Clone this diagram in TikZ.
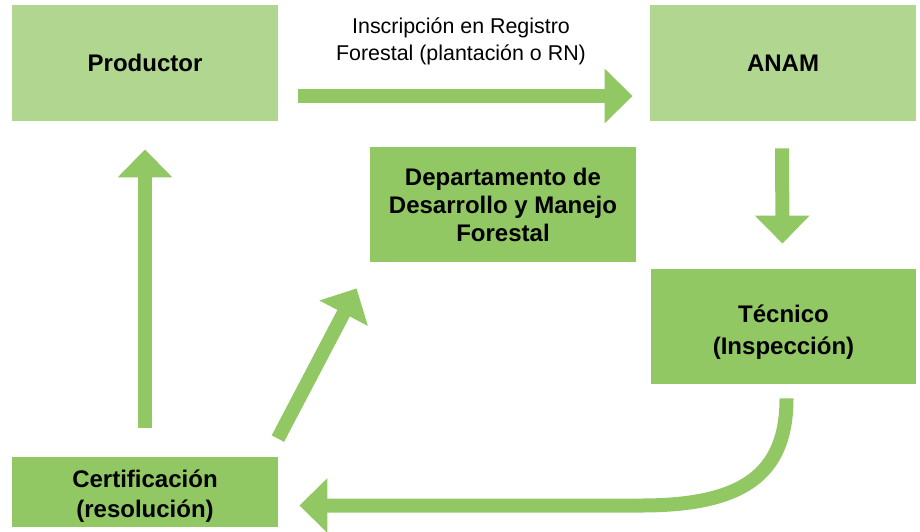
\documentclass[tikz,border=0pt]{standalone}
\usepackage{fontspec}
\setmainfont{Liberation Sans}
\usepackage{tikz}
\usetikzlibrary{arrows.meta,positioning,calc}
\usepackage{xcolor}
\definecolor{lightgreen}{RGB}{176,214,144}
\definecolor{midgreen}{RGB}{146,200,100}

\begin{document}
\begin{tikzpicture}[
    x=0.5pt, y=-0.5pt,
    box/.style={rectangle, fill=#1, minimum width=133pt, minimum height=58pt, align=center, inner sep=2pt, font=\fontsize{12}{14}\selectfont\bfseries},
    bigarrow/.style={-{Triangle[width=26.5pt,length=14pt]}, line width=7pt, midgreen}
]
\useasboundingbox (0,0) rectangle (920,531);

% Boxes
\node[box=lightgreen] (prod) at (145,63) {Productor};
\node[box=lightgreen] (anam) at (783,63) {ANAM};
\node[box=midgreen, minimum height=57.5pt] (dept) at (503,204.5) {Departamento de\\Desarrollo y Manejo\\Forestal};
\node[box=midgreen, minimum width=132.5pt, minimum height=57.5pt] (tec) at (783.5,326.5) {\rule{0pt}{14pt}T\'ecnico\\[2pt](Inspecci\'on)};
\node[box=midgreen, minimum height=35pt] (cert) at (145,492) {\rule{0pt}{13pt}Certificaci\'on\\[1pt](resoluci\'on)};

% Label of the top arrow
\node[align=center, font=\fontsize{10.7}{13.5}\selectfont] (insc) at (461,41) {Inscripci\'on en Registro\\Forestal (plantaci\'on o RN)};

% Arrows
\draw[bigarrow, shorten <=10pt, shorten >=8.5pt] ([yshift=-16.5pt]prod.east) -- ([yshift=-16.5pt]anam.west);
\draw[bigarrow, shorten <=13.5pt, shorten >=12.5pt] ([xshift=-0.5pt]anam.south) -- ([xshift=-0.5pt]tec.north);
\draw[bigarrow, shorten <=14.5pt, shorten >=14pt] (cert.north) -- (prod.south);
\draw[bigarrow] ([shift={(-0.5,-18)}]cert.north east) -- ([shift={(-13,26)}]dept.south west);

% Curved return arrow
\coordinate (bend) at (641,505.5);
\draw[bigarrow] ([shift={(3,14)}]tec.south) .. controls +(0,76) and +(102,0) .. (bend) -- ([shift={(21,13.5)}]cert.east);

\end{tikzpicture}
\end{document}
